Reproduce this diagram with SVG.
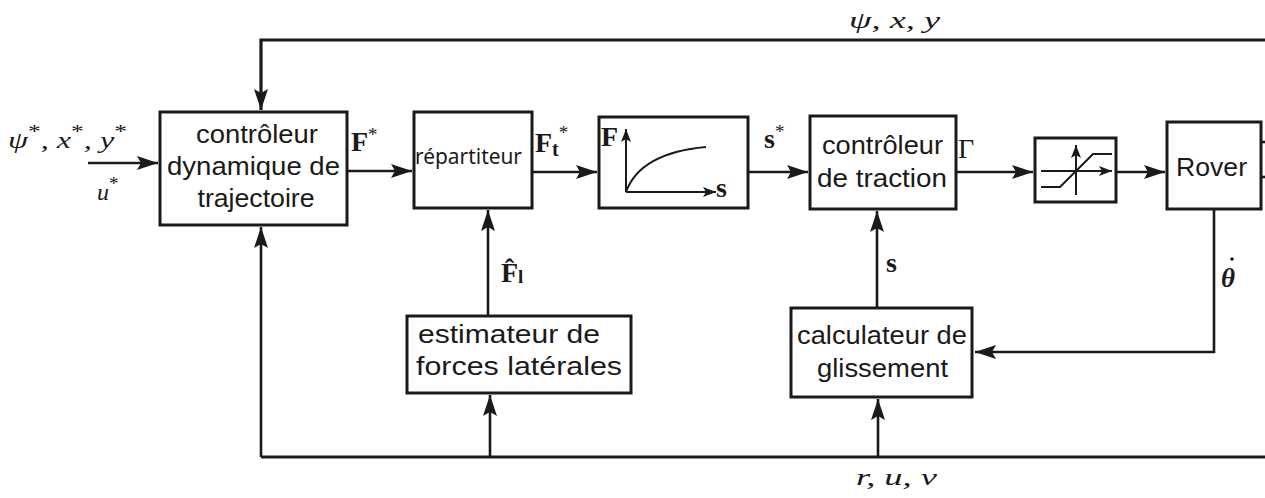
<svg xmlns="http://www.w3.org/2000/svg" width="1265" height="498" viewBox="0 0 1265 498">
<style>
.box{fill:#fff;stroke:#1a1a1a;stroke-width:3}
.ln{fill:none;stroke:#1a1a1a;stroke-width:2.6}
.bus{fill:none;stroke:#1a1a1a;stroke-width:3.2}
.thin{fill:none;stroke:#1a1a1a;stroke-width:2}
.t{font-family:"Liberation Sans",Arial,sans-serif;font-size:26px;fill:#1a1a1a}
.tn{font-family:"Noto Sans","Open Sans",sans-serif;font-size:21px;fill:#1a1a1a}
.m{font-family:"Liberation Serif","Times New Roman",serif;font-style:italic;font-size:24px;fill:#1a1a1a}
.b{font-family:"Liberation Serif","Times New Roman",serif;font-weight:bold;font-size:28px;fill:#1a1a1a}
.sup{font-style:normal;font-weight:normal;font-size:19px}
</style>
<defs>
<marker id="ah" markerUnits="userSpaceOnUse" viewBox="0 -8 22 16" markerWidth="22" markerHeight="16" refX="21" refY="0" orient="auto">
<path d="M0,-7 L21,0 L0,7 L4,0 Z" fill="#1a1a1a"/>
</marker>
<marker id="as" markerUnits="userSpaceOnUse" viewBox="0 -6 14 12" markerWidth="14" markerHeight="12" refX="13" refY="0" orient="auto">
<path d="M0,-5 L13,0 L0,5 L3,0 Z" fill="#1a1a1a"/>
</marker>
</defs>

<g id="connectors">
<polyline class="bus" points="1265,40 261,40 261,110" marker-end="url(#ah)"/>
<polyline class="bus" points="1265,457 261,457"/>
<line class="ln" x1="261" y1="457" x2="261" y2="227" marker-end="url(#ah)"/>
<line class="ln" x1="490" y1="457" x2="490" y2="395" marker-end="url(#ah)"/>
<line class="ln" x1="878" y1="457" x2="878" y2="399" marker-end="url(#ah)"/>
<line class="ln" x1="88" y1="163" x2="158" y2="163" marker-end="url(#ah)"/>
<line class="ln" x1="348" y1="171" x2="412" y2="171" marker-end="url(#ah)"/>
<line class="ln" x1="533" y1="172" x2="597" y2="172" marker-end="url(#ah)"/>
<line class="ln" x1="749" y1="172" x2="808" y2="172" marker-end="url(#ah)"/>
<line class="ln" x1="957" y1="172" x2="1033" y2="172" marker-end="url(#ah)"/>
<line class="ln" x1="1117" y1="172" x2="1165" y2="172" marker-end="url(#ah)"/>
<line class="ln" x1="488" y1="316" x2="488" y2="210" marker-end="url(#ah)"/>
<line class="ln" x1="877" y1="308" x2="877" y2="211" marker-end="url(#ah)"/>
<polyline class="ln" points="1214,209 1214,352 975,352" marker-end="url(#ah)"/>
<line class="ln" x1="1261" y1="142" x2="1265" y2="142"/>
<line class="ln" x1="1261" y1="177" x2="1265" y2="177"/>
</g>

<g id="labels">
<text class="m" x="8" y="148" textLength="119" lengthAdjust="spacingAndGlyphs">ψ<tspan class="sup" dy="-10">*</tspan><tspan dy="10">, x</tspan><tspan class="sup" dy="-10">*</tspan><tspan dy="10">, y</tspan><tspan class="sup" dy="-10">*</tspan></text>
<text class="m" x="97" y="200">u<tspan class="sup" dy="-10">*</tspan></text>
<text class="m" x="849" y="28" textLength="91" lengthAdjust="spacingAndGlyphs">ψ, x, y</text>
<text class="m" x="856" y="485" textLength="81" lengthAdjust="spacingAndGlyphs">r, u, v</text>
<text class="b" x="351" y="151">F<tspan class="sup" dy="-10">*</tspan></text>
<text class="b" x="535" y="152">F<tspan font-size="20" dy="4">t</tspan><tspan class="sup" dy="-17">*</tspan></text>
<text class="b" x="764" y="148">s<tspan class="sup" dy="-10">*</tspan></text>
<text x="958" y="158" font-family="Liberation Serif,serif" font-size="28" fill="#1a1a1a">Γ</text>
<text class="b" x="886" y="272" font-size="25">s</text>
<text class="b" x="501" y="282" font-size="26">F̂<tspan font-size="19" dy="1">l</tspan></text>
<g id="theta_dot">
<text x="1221" y="287" font-family="Liberation Serif,serif" font-style="italic" font-weight="bold" font-size="27" fill="#1a1a1a">θ</text>
<circle cx="1232" cy="259" r="1.8" fill="#1a1a1a"/>
</g>
</g>

<g id="controleur_dynamique">
<rect class="box" x="160" y="112" width="187" height="113"/>
<text class="t" x="257" y="143" text-anchor="middle" textLength="122" lengthAdjust="spacingAndGlyphs">contrôleur</text>
<text class="t" x="253.5" y="175" text-anchor="middle" textLength="173" lengthAdjust="spacingAndGlyphs">dynamique de</text>
<text class="t" x="256" y="207" text-anchor="middle" textLength="117" lengthAdjust="spacingAndGlyphs">trajectoire</text>
</g>

<g id="repartiteur">
<rect class="box" x="414" y="112" width="118" height="96"/>
<text class="tn" x="415" y="164" textLength="107" lengthAdjust="spacingAndGlyphs">répartiteur</text>
</g>

<g id="courbe">
<rect class="box" x="599" y="117" width="149" height="91"/>
<line class="thin" x1="626" y1="192" x2="626" y2="129" marker-end="url(#as)"/>
<line class="thin" x1="626" y1="192" x2="716" y2="192" marker-end="url(#as)"/>
<path class="thin" d="M626,192 Q640,153 706,147"/>
<text class="b" x="601" y="146" font-size="25">F</text>
<text class="b" x="716" y="197" font-size="25">s</text>
</g>

<g id="controleur_traction">
<rect class="box" x="810" y="116" width="146" height="93"/>
<text class="t" x="882.5" y="154" text-anchor="middle" textLength="121" lengthAdjust="spacingAndGlyphs">contrôleur</text>
<text class="t" x="882" y="187" text-anchor="middle" textLength="130" lengthAdjust="spacingAndGlyphs">de traction</text>
</g>

<g id="saturation">
<rect class="box" x="1035" y="138" width="81" height="64"/>
<line class="thin" x1="1041" y1="171" x2="1112" y2="171" marker-end="url(#as)"/>
<line class="thin" x1="1076" y1="195" x2="1076" y2="145" marker-end="url(#as)"/>
<polyline class="thin" points="1041,187 1060,187 1093,154 1112,154"/>
</g>

<g id="rover">
<rect class="box" x="1167" y="122" width="94" height="87"/>
<text class="t" x="1211.5" y="176" text-anchor="middle" textLength="71" lengthAdjust="spacingAndGlyphs">Rover</text>
</g>

<g id="estimateur">
<rect class="box" x="407" y="316" width="224" height="77"/>
<text class="t" x="418" y="343" textLength="182" lengthAdjust="spacingAndGlyphs">estimateur de</text>
<text class="t" x="416" y="375" textLength="206" lengthAdjust="spacingAndGlyphs">forces latérales</text>
</g>

<g id="calculateur">
<rect class="box" x="791" y="308" width="181" height="89"/>
<text class="t" x="882" y="344" text-anchor="middle" textLength="170" lengthAdjust="spacingAndGlyphs">calculateur de</text>
<text class="t" x="882.5" y="377" text-anchor="middle" textLength="131" lengthAdjust="spacingAndGlyphs">glissement</text>
</g>
</svg>
